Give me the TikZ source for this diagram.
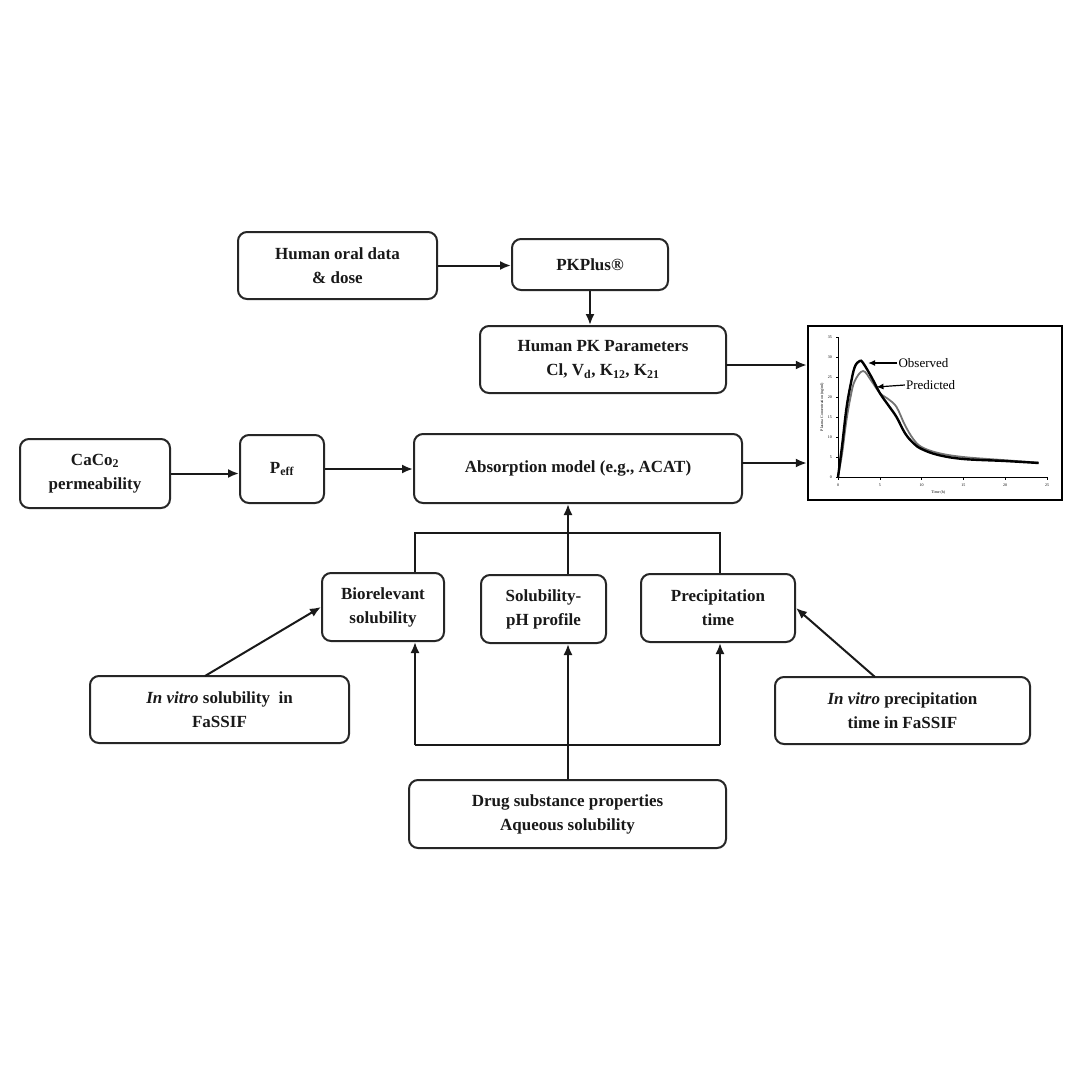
\documentclass[tikz,border=0pt]{standalone}
\usepackage{fontspec}
\setmainfont{Liberation Serif}
\usetikzlibrary{arrows.meta}
\begin{document}
\begin{tikzpicture}[x=1pt,y=-1pt,
  box/.style={draw=black!85, line width=2pt, rounded corners=9pt, align=center, inner sep=0pt,
    font=\fontsize{17}{24}\selectfont\bfseries, text=black!90},
  arr/.style={line width=2pt, draw=black!90, -{Latex[length=11pt,width=9pt]}},
  ln/.style={line width=2pt, draw=black!90},
  tick/.style={font=\fontsize{4}{5}\selectfont}]
\useasboundingbox[fill=white] (0,0) rectangle (1080,1080);

\node[box, minimum width=199, minimum height=67] (oral) at (337.5,265.5) {Human oral data\\\& dose};
\node[box, minimum width=156, minimum height=51] (pkp) at (590,264.5) {PKPlus®};
\node[box, minimum width=246, minimum height=67] (pk) at (603,359.5) {Human PK Parameters\\Cl, V\textsubscript{d}, K\textsubscript{12}, K\textsubscript{21}};
\node[box, minimum width=150, minimum height=69] (caco) at (95,473.5) {CaCo\textsubscript{2}\\permeability};
\node[box, minimum width=84, minimum height=68] (peff) at (282,469) {P\textsubscript{eff}};
\node[box, minimum width=328, minimum height=69] (abs) at (578,468.5) {Absorption model (e.g., ACAT)};
\node[box, minimum width=122, minimum height=68] (bio) at (383,607) {Biorelevant\\solubility};
\node[box, minimum width=125, minimum height=68] (sol) at (543.5,609) {Solubility-\\pH profile};
\node[box, minimum width=154, minimum height=68] (prec) at (718,608) {Precipitation\\time};
\node[box, minimum width=259, minimum height=67] (ivs) at (219.5,709.5) {\textit{In vitro} solubility\ \ in\\FaSSIF};
\node[box, minimum width=255, minimum height=67] (ivp) at (902.5,710.5) {\textit{In vitro} precipitation\\time in FaSSIF};
\node[box, minimum width=317, minimum height=68] (drug) at (567.5,814) {Drug substance properties\\Aqueous solubility};

% graph frame
\node[draw=black, line width=2.4pt, minimum width=254, minimum height=174, inner sep=0pt] (graph) at (935,413) {};

% connectors
\draw[arr] (oral.east) -- (pkp.west |- oral.east);
\draw[arr] (pkp.south) -- (pk.north -| pkp.south);
\coordinate (pkout) at (726,365);
\draw[arr] (pkout) -- (graph.west |- pkout);
\coordinate (absout) at (742,463);
\draw[arr] (absout) -- (graph.west |- absout);
\draw[arr] (caco.east) -- (peff.west |- caco.east);
\draw[arr] (peff.east) -- (abs.west |- peff.east);

\coordinate (tl) at (415,533);
\coordinate (tc) at (568,533);
\coordinate (tr) at (720,533);
\draw[ln] (bio.north -| tl) -- (tl) -- (tr) -- (prec.north -| tr);
\draw[arr] (sol.north -| tc) -- (abs.south -| tc);

\coordinate (bl) at (415,745);
\coordinate (br) at (720,745);
\draw[arr] (drug.north -| tc) -- (sol.south -| tc);
\draw[ln] (bl) -- (br);
\draw[arr] (bl) -- (bio.south -| bl);
\draw[arr] (br) -- (prec.south -| br);

\coordinate (ivsout) at (205,676);
\draw[arr] (ivsout) -- (bio.west);
\coordinate (ivpout) at (875,677);
\draw[arr] (ivpout) -- (prec.east);

% plot inside graph
\begin{scope}[shift={(838,477)}, x=8.36pt, y=4pt]
  \draw[line width=0.6pt] (0,0) -- (0,35);
  \draw[line width=0.6pt] (0,0) -- (25,0);
  \foreach \v in {0,5,...,35} {
    \draw[line width=0.4pt] (0,\v) -- (-0.25,\v);
    \node[tick, anchor=east] at (-0.3,\v) {\v};
  }
  \foreach \v in {0,5,...,25} {
    \draw[line width=0.4pt] (\v,0) -- (\v,-0.8);
    \node[tick, anchor=north] at (\v,-0.9) {\v};
  }
  \node[tick] at (12,-4) {Time (h)};
  \node[tick, rotate=90] at (-1.9,17.5) {Plasma Concentration (ng/ml)};
  \draw[line width=1.8pt, black!55] plot[smooth, tension=0.6] coordinates {(0,0) (0.5,6) (1,14) (1.5,20) (2,24) (3,26.5) (4,24) (5,21) (6,19.5) (7,17.5) (8,13) (9,9.5) (10,7.5) (12,6) (15,5) (20,4.2) (24,3.6)};
  \draw[line width=2.4pt, black] plot[smooth, tension=0.6] coordinates {(0,0) (0.5,8) (1,17) (1.5,23) (2,27.5) (2.6,29) (3,28.5) (4,25) (5,21) (6,18) (7,15) (8,11) (9,8.5) (10,7) (12,5.5) (15,4.5) (20,4) (24,3.5)};
  \node[font=\fontsize{13}{15}\selectfont, anchor=west, inner sep=1pt] (obs) at (7.1,28.5) {Observed};
  \node[font=\fontsize{13}{15}\selectfont, anchor=west, inner sep=1pt] (pre) at (8.0,23) {Predicted};
  \coordinate (obstip) at (3.6,28.5);
  \coordinate (pretip) at (4.6,22.5);
  \draw[line width=1.2pt, -{Latex[length=7pt,width=6pt]}] (obs.west) -- (obstip);
  \draw[line width=1.2pt, -{Latex[length=7pt,width=6pt]}] (pre.west) -- (pretip);
\end{scope}
\end{tikzpicture}
\end{document}
